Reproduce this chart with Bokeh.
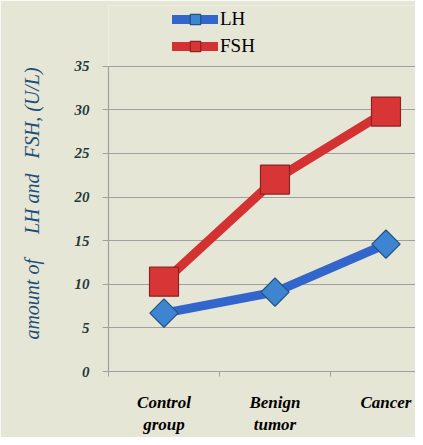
from bokeh.plotting import figure
from bokeh.models import Range1d, FixedTicker, Legend, LegendItem
from bokeh.embed import file_html
from bokeh.resources import INLINE
import math

categories = ["Control\ngroup", "Benign\ntumor", "Cancer"]
lh = [6.7, 9.1, 14.6]
fsh = [10.3, 22.0, 29.8]
y_ticks = [0, 5, 10, 15, 20, 25, 30, 35]

xs = [i + 0.5 for i in range(len(categories))]
bounds = list(range(len(categories) + 1))

SERIF = "Liberation Serif"
BG = "#E6E6D6"
# frame spans from the top of the legend area down to the x axis; axis drawn only 0..35
p = figure(width=415, height=437, output_backend="svg", toolbar_location=None,
           x_range=Range1d(0, 2.766), y_range=Range1d(0, 41.96),
           min_border_left=108, min_border_right=0, min_border_top=5, min_border_bottom=64)
p.background_fill_color = BG
p.border_fill_color = BG
p.outline_line_color = None

p.xgrid.visible = False
p.ygrid.grid_line_color = "#A0A0A0"
p.ygrid.grid_line_width = 1.2
p.ygrid.ticker = FixedTicker(ticks=y_ticks)

# x axis
p.xaxis.ticker = FixedTicker(ticks=xs, minor_ticks=bounds)
p.xaxis.major_label_overrides = {x: c for x, c in zip(xs, categories)}
p.xaxis.major_tick_in = 0
p.xaxis.major_tick_out = 0
p.xaxis.minor_tick_in = 0
p.xaxis.minor_tick_out = 5
p.xaxis.minor_tick_line_color = "#A0A0A0"
p.xaxis.axis_line_color = "#A0A0A0"
p.xaxis.axis_line_width = 1.2
p.xaxis.major_label_standoff = 16
p.xaxis.major_label_text_font = SERIF
p.xaxis.major_label_text_font_style = "bold italic"
p.xaxis.major_label_text_font_size = "17px"
p.xaxis.major_label_text_color = "#000000"
p.xaxis.major_label_text_line_height = 1.2

# y axis
p.yaxis.ticker = FixedTicker(ticks=y_ticks)
p.yaxis.bounds = (y_ticks[0], y_ticks[-1])
p.yaxis.major_tick_in = 0
p.yaxis.major_tick_out = 6
p.yaxis.minor_tick_line_color = None
p.yaxis.major_tick_line_color = "#A0A0A0"
p.yaxis.axis_line_color = "#A0A0A0"
p.yaxis.axis_line_width = 1.2
p.yaxis.major_label_standoff = 13
p.yaxis.major_label_text_font = SERIF
p.yaxis.major_label_text_font_style = "bold italic"
p.yaxis.major_label_text_font_size = "15px"
p.yaxis.major_label_text_color = "#1E3A3A"
nb = "\u00a0"
p.yaxis.axis_label = "amount of" + nb * 5 + "LH and" + nb * 3 + "FSH, (U/L)" + nb * 6
p.yaxis.axis_label_text_font = SERIF
p.yaxis.axis_label_text_font_style = "italic"
p.yaxis.axis_label_text_font_size = "20px"
p.yaxis.axis_label_text_color = "#1F4E79"
p.yaxis.axis_label_standoff = 29

# series
l1 = p.line(xs, lh, line_color="#3366CC", line_width=9, line_cap="round")
m1 = p.scatter(xs, lh, marker="square", size=20, angle=math.pi / 4,
               fill_color="#3D85D0", line_color="#24527F", line_width=1.2)
l2 = p.line(xs, fsh, line_color="#D43232", line_width=9, line_cap="round")
m2 = p.scatter(xs, fsh, marker="square", size=29,
               fill_color="#D83636", line_color="#8C2222", line_width=1.2)

legend = Legend(items=[LegendItem(label="LH", renderers=[l1, m1]),
                       LegendItem(label="FSH", renderers=[l2, m2])],
                location=(64, 312), background_fill_alpha=0, border_line_color=None,
                padding=0, margin=0, spacing=1, glyph_width=46, glyph_height=26,
                label_standoff=2, label_text_font=SERIF,
                label_text_font_size="19px", label_text_color="#000000")
p.add_layout(legend)

open("out.html", "w").write(file_html(p, INLINE))
